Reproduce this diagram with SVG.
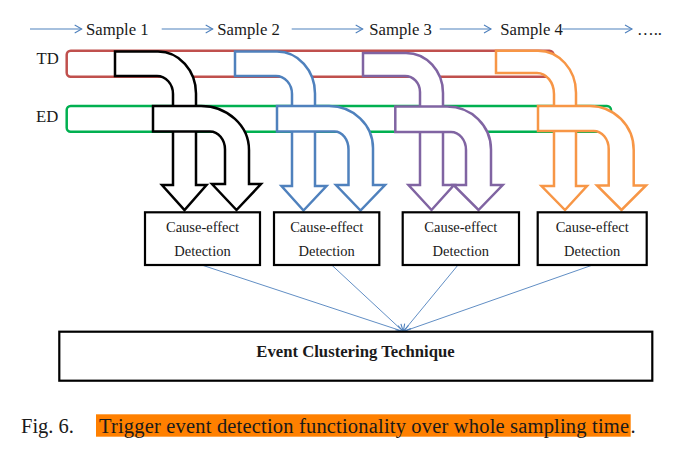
<svg xmlns="http://www.w3.org/2000/svg" width="677" height="450" viewBox="0 0 677 450">
<style>
.lbl{font-family:"Liberation Serif","Times New Roman",serif;fill:#1a1a1a}
.smp{font-size:16.7px}
.bar{fill:#fff;stroke-width:2.5}
.arr{fill:#fff;stroke-width:2.5;stroke-linejoin:miter}
.box{fill:#fff;stroke:#000;stroke-width:2.2}
.ce{font-size:14.5px;text-anchor:middle}
.tl{stroke:#4F81BD;stroke-width:1.1;fill:none}
.cl{stroke:#4F81BD;stroke-width:0.9;fill:none}
</style>
<defs>
<marker id="open" markerUnits="userSpaceOnUse" markerWidth="12" markerHeight="12" refX="8" refY="5" orient="auto" viewBox="0 0 12 10">
<path d="M1,1 L8,5 L1,9" fill="none" stroke="#4F81BD" stroke-width="1.1"/>
</marker>
</defs>
<rect width="677" height="450" fill="#fff"/>

<g id="timeline">
<line class="tl" x1="30" y1="29" x2="81.7" y2="29" marker-end="url(#open)"/>
<text class="lbl smp" x="86" y="35">Sample 1</text>
<line class="tl" x1="161.7" y1="29" x2="212.7" y2="29" marker-end="url(#open)"/>
<text class="lbl smp" x="217.3" y="35">Sample 2</text>
<line class="tl" x1="291.7" y1="29" x2="362.7" y2="29" marker-end="url(#open)"/>
<text class="lbl smp" x="369.3" y="35">Sample 3</text>
<line class="tl" x1="439.7" y1="29" x2="491" y2="29" marker-end="url(#open)"/>
<text class="lbl smp" x="500.3" y="35">Sample 4</text>
<line class="tl" x1="562" y1="29" x2="632" y2="29" marker-end="url(#open)"/>
<text class="lbl smp" x="637" y="35">…..</text>
</g>

<g id="td-bar">
<rect class="bar" x="66.7" y="50.7" width="486.8" height="26" rx="4" stroke="#C0504D"/>
<text class="lbl smp" x="36.5" y="64">TD</text>
</g>
<g id="ed-bar">
<rect class="bar" x="66.7" y="106" width="544.3" height="25.7" rx="4" stroke="#00B050"/>
<text class="lbl smp" x="36" y="122.3">ED</text>
</g>

<g id="arrow-td-1">
<path class="arr" stroke="#000" d="M115,51.5 H158 A38,42 0 0 1 196,93.5 V185 H206.5 L184.5,210 L162,185 H173 V94 A16,18 0 0 0 157,76 H115 Z"/>
</g>
<g id="arrow-ed-1">
<path class="arr" stroke="#000" d="M153,106 H201 A48,44 0 0 1 249,150 V184 H261 L236.5,210 L212,184 H225 V149.5 A15,18 0 0 0 210,131.5 H153 Z"/>
</g>
<g id="arrow-td-2">
<path class="arr" stroke="#4F81BD" d="M235,51.5 H277 A38,42 0 0 1 315,93.5 V186 H326.5 L303.5,210.5 L281.5,186 H292 V94 A16,18 0 0 0 276,76 H235 Z"/>
</g>
<g id="arrow-ed-2">
<path class="arr" stroke="#4F81BD" d="M277,106 H329 A44,42 0 0 1 373,148 V185 H385 L360.5,210.5 L336,185 H348.5 V149.5 A14,18 0 0 0 334.5,131.5 H277 Z"/>
</g>
<g id="arrow-td-3">
<path class="arr" stroke="#8064A2" d="M363,53 H406 A37,40 0 0 1 443,93 V185 H454 L431.5,210 L408.5,185 H420 V92 A15,16 0 0 0 405,76 H363 Z"/>
</g>
<g id="arrow-ed-3">
<path class="arr" stroke="#8064A2" d="M395.3,106.5 H447 A44,43 0 0 1 491,149.5 V185 H502.7 L478.5,210 L453.5,185 H466 V150 A15,18 0 0 0 451,132 H395.3 Z"/>
</g>
<g id="arrow-td-4">
<path class="arr" stroke="#F79646" d="M496,50.7 H538 A38,42 0 0 1 576,92.7 V186 H587 L565,210 L541.5,186 H554 V94 A17,21 0 0 0 537,73 H496 Z"/>
</g>
<g id="arrow-ed-4">
<path class="arr" stroke="#F79646" d="M538,106 H590 A44,44 0 0 1 633.7,150 V185.5 H646 L621.5,210 L597,185.5 H608.7 V149 A15,18 0 0 0 593.7,131 H538 Z"/>
</g>

<g id="connectors">
<line class="cl" x1="201.7" y1="265" x2="403.3" y2="331.5" marker-end="url(#open)"/>
<line class="cl" x1="331.7" y1="265" x2="403.3" y2="331.5" marker-end="url(#open)"/>
<line class="cl" x1="458" y1="265" x2="403.3" y2="331.5" marker-end="url(#open)"/>
<line class="cl" x1="592.7" y1="265" x2="403.3" y2="331.5" marker-end="url(#open)"/>
</g>

<g id="ce-1">
<rect class="box" x="145" y="212.3" width="115" height="52.7"/>
<text class="lbl ce" x="202.5" y="232">Cause-effect</text>
<text class="lbl ce" x="202.5" y="256">Detection</text>
</g>
<g id="ce-2">
<rect class="box" x="274" y="212.3" width="105.3" height="52.7"/>
<text class="lbl ce" x="326.7" y="232">Cause-effect</text>
<text class="lbl ce" x="326.7" y="256">Detection</text>
</g>
<g id="ce-3">
<rect class="box" x="402.7" y="212.3" width="116.3" height="52.7"/>
<text class="lbl ce" x="460.8" y="232">Cause-effect</text>
<text class="lbl ce" x="460.8" y="256">Detection</text>
</g>
<g id="ce-4">
<rect class="box" x="537.7" y="212.3" width="109" height="52.7"/>
<text class="lbl ce" x="592.2" y="232">Cause-effect</text>
<text class="lbl ce" x="592.2" y="256">Detection</text>
</g>

<g id="clustering">
<rect class="box" x="59.3" y="331.7" width="593" height="49" stroke-width="2.5"/>
<text class="lbl" x="355.5" y="357" font-size="16.7" font-weight="bold" text-anchor="middle">Event Clustering Technique</text>
</g>

<g id="caption">
<text class="lbl" x="21" y="433" font-size="20.5">Fig. 6.</text>
<rect x="96" y="414.3" width="534.7" height="22.4" fill="#FF8000"/>
<text class="lbl" x="99" y="433" font-size="20.5" textLength="530" lengthAdjust="spacing">Trigger event detection functionality over whole sampling time</text>
<text class="lbl" x="630.5" y="433" font-size="20.5">.</text>
</g>
</svg>
